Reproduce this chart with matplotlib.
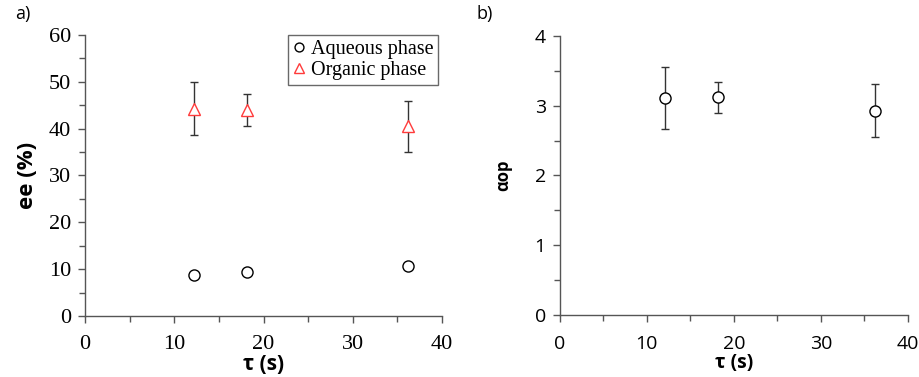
import matplotlib
matplotlib.use("Agg")
import matplotlib.pyplot as plt
from matplotlib.ticker import MultipleLocator

# --- data ---
tau_a = [12.2, 18.2, 36.2]
ee_aqueous = [8.8, 9.3, 10.6]
ee_organic = [44.3, 44.0, 40.5]
ee_organic_err = [5.6, 3.5, 5.4]

tau_b = [12.1, 18.2, 36.2]
alpha_op = [3.11, 3.12, 2.93]
alpha_op_err = [0.44, 0.22, 0.38]

x_ticks = [0, 10, 20, 30, 40]

serif = "Liberation Serif"
sans = "Open Sans"
spine_col = "#555555"

fig = plt.figure(figsize=(9.19, 3.77), dpi=100)
ax1 = fig.add_axes([0.0925, 0.162, 0.3885, 0.745])
ax2 = fig.add_axes([0.609, 0.164, 0.379, 0.741])


def style_axes(ax, fam, size):
    for s in ["top", "right"]:
        ax.spines[s].set_visible(False)
    for s in ["left", "bottom"]:
        ax.spines[s].set_color(spine_col)
        ax.spines[s].set_linewidth(1.0)
    ax.tick_params(which="both", direction="out", color=spine_col, width=1.0)
    ax.tick_params(which="major", length=5, labelsize=size)
    ax.tick_params(which="minor", length=4)
    ax.tick_params(axis="x", which="major", pad=9)
    ax.tick_params(axis="y", which="major", pad=5)
    ax.set_xlim(0, 40)
    ax.set_xticks(x_ticks)
    ax.xaxis.set_minor_locator(MultipleLocator(5))
    for lab in ax.get_xticklabels() + ax.get_yticklabels():
        lab.set_family(fam)


# --- panel a ---
ax1.errorbar(tau_a, ee_organic, yerr=ee_organic_err, fmt="none",
             ecolor="#333333", elinewidth=1.0, capsize=3, capthick=1.0, zorder=2)
ax1.plot(tau_a, ee_aqueous, "o", mfc="white", mec="black", ms=8, mew=1.0,
         label="Aqueous phase", zorder=3)
ax1.plot(tau_a, ee_organic, "^", mfc="white", mec="#ff3b3b", ms=9, mew=1.0,
         label="Organic phase", zorder=3)
ax1.set_ylim(0, 60)
ax1.yaxis.set_major_locator(MultipleLocator(10))
ax1.yaxis.set_minor_locator(MultipleLocator(5))
style_axes(ax1, serif, 16)
ax1.set_xlabel("τ (s)", fontsize=15, fontweight="bold", family=sans, labelpad=0)
ax1.set_ylabel("ee (%)", fontsize=16, fontweight="bold", family=sans, labelpad=8)
leg = ax1.legend(loc="upper right", bbox_to_anchor=(0.99, 1.0),
                 prop={"family": serif, "size": 14.5}, frameon=True, fancybox=False,
                 edgecolor="#444444", handlelength=0.6, handletextpad=0.3,
                 borderpad=0.25, labelspacing=0.1, markerscale=0.8,
                 borderaxespad=0.0)
leg.get_frame().set_linewidth(1.0)

# --- panel b ---
ax2.errorbar(tau_b, alpha_op, yerr=alpha_op_err, fmt="o", mfc="white",
             mec="black", ms=8, mew=1.0, ecolor="#333333", elinewidth=1.0,
             capsize=3, capthick=1.0)
ax2.set_ylim(0, 4)
ax2.yaxis.set_major_locator(MultipleLocator(1))
ax2.yaxis.set_minor_locator(MultipleLocator(0.5))
style_axes(ax2, sans, 14)
ax2.set_xlabel("τ (s)", fontsize=14, fontweight="bold", family=sans, labelpad=0)
ax2.set_ylabel("αop", fontsize=12, fontweight="bold", family=sans, labelpad=16)

fig.text(15 / 919, 1 - 14 / 377, "a)", fontsize=13, family=sans, va="center")
fig.text(476 / 919, 1 - 14 / 377, "b)", fontsize=13, family=sans, va="center")

fig.savefig("out.png", dpi=100)
